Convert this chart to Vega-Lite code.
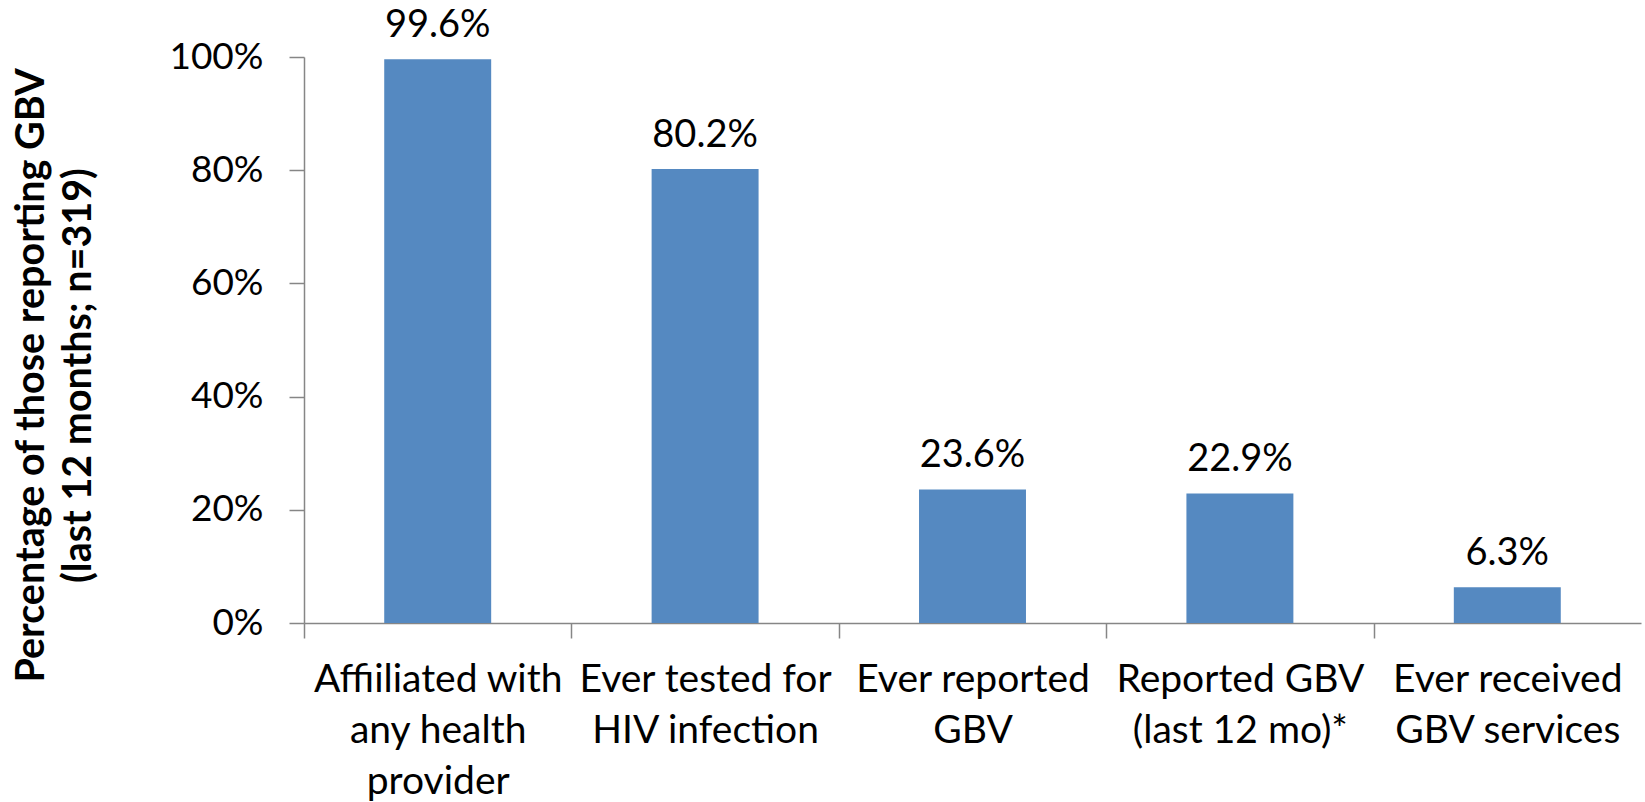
{
  "$schema": "https://vega.github.io/schema/vega-lite/v6.json",
  "autosize": "none",
  "width": 1337,
  "height": 566,
  "padding": {"left": 304, "top": 57, "right": 4, "bottom": 179},
  "background": "white",
  "config": {"view": {"stroke": null}, "font": "Lato"},
  "data": {
    "values": [
      {"category": "Affiiliated with|any health|provider", "value": 0.996},
      {"category": "Ever tested for|HIV infection", "value": 0.802},
      {"category": "Ever reported|GBV", "value": 0.236},
      {"category": "Reported GBV|(last 12 mo)*", "value": 0.229},
      {"category": "Ever received|GBV services", "value": 0.063}
    ]
  },
  "encoding": {
    "x": {
      "field": "category",
      "type": "nominal",
      "sort": null,
      "scale": {"paddingInner": 0.6, "paddingOuter": 0.3},
      "axis": {
        "title": null,
        "labelAngle": 0,
        "labelExpr": "split(datum.label, '|')",
        "labelFont": "Lato",
        "labelFontSize": 39,
        "labelLineHeight": 51,
        "labelColor": "#000000",
        "labelPadding": 22,
        "labelLimit": 400,
        "tickOffset": -133.7,
        "labelOffset": 133.7,
        "tickSize": 15,
        "tickColor": "#868686",
        "domainColor": "#868686",
        "tickWidth": 1.5,
        "domainWidth": 1.5
      }
    },
    "y": {
      "field": "value",
      "type": "quantitative",
      "scale": {"domain": [0, 1]},
      "axis": {
        "title": ["Percentage of those reporting GBV", "(last 12 months; n=319)"],
        "titleFont": "Lato",
        "titleFontSize": 39.5,
        "titleFontWeight": "bold",
        "titleColor": "#000000",
        "titleLineHeight": 47,
        "titleAngle": -90,
        "titleAlign": "center",
        "titleBaseline": "alphabetic",
        "titleX": -261,
        "titleY": 318,
        "values": [0, 0.2, 0.4, 0.6, 0.8, 1],
        "format": ".0%",
        "grid": false,
        "labelFont": "Lato",
        "labelFontSize": 37,
        "labelColor": "#000000",
        "labelPadding": 26,
        "tickSize": 15,
        "tickColor": "#868686",
        "domainColor": "#868686",
        "tickWidth": 1.5,
        "domainWidth": 1.5
      }
    }
  },
  "layer": [
    {"mark": {"type": "bar", "color": "#5589C1"}},
    {
      "mark": {"type": "text", "baseline": "alphabetic", "dy": -22, "font": "Lato", "fontSize": 38, "color": "#000000"},
      "encoding": {"text": {"field": "value", "type": "quantitative", "format": ".1%"}}
    }
  ]
}
